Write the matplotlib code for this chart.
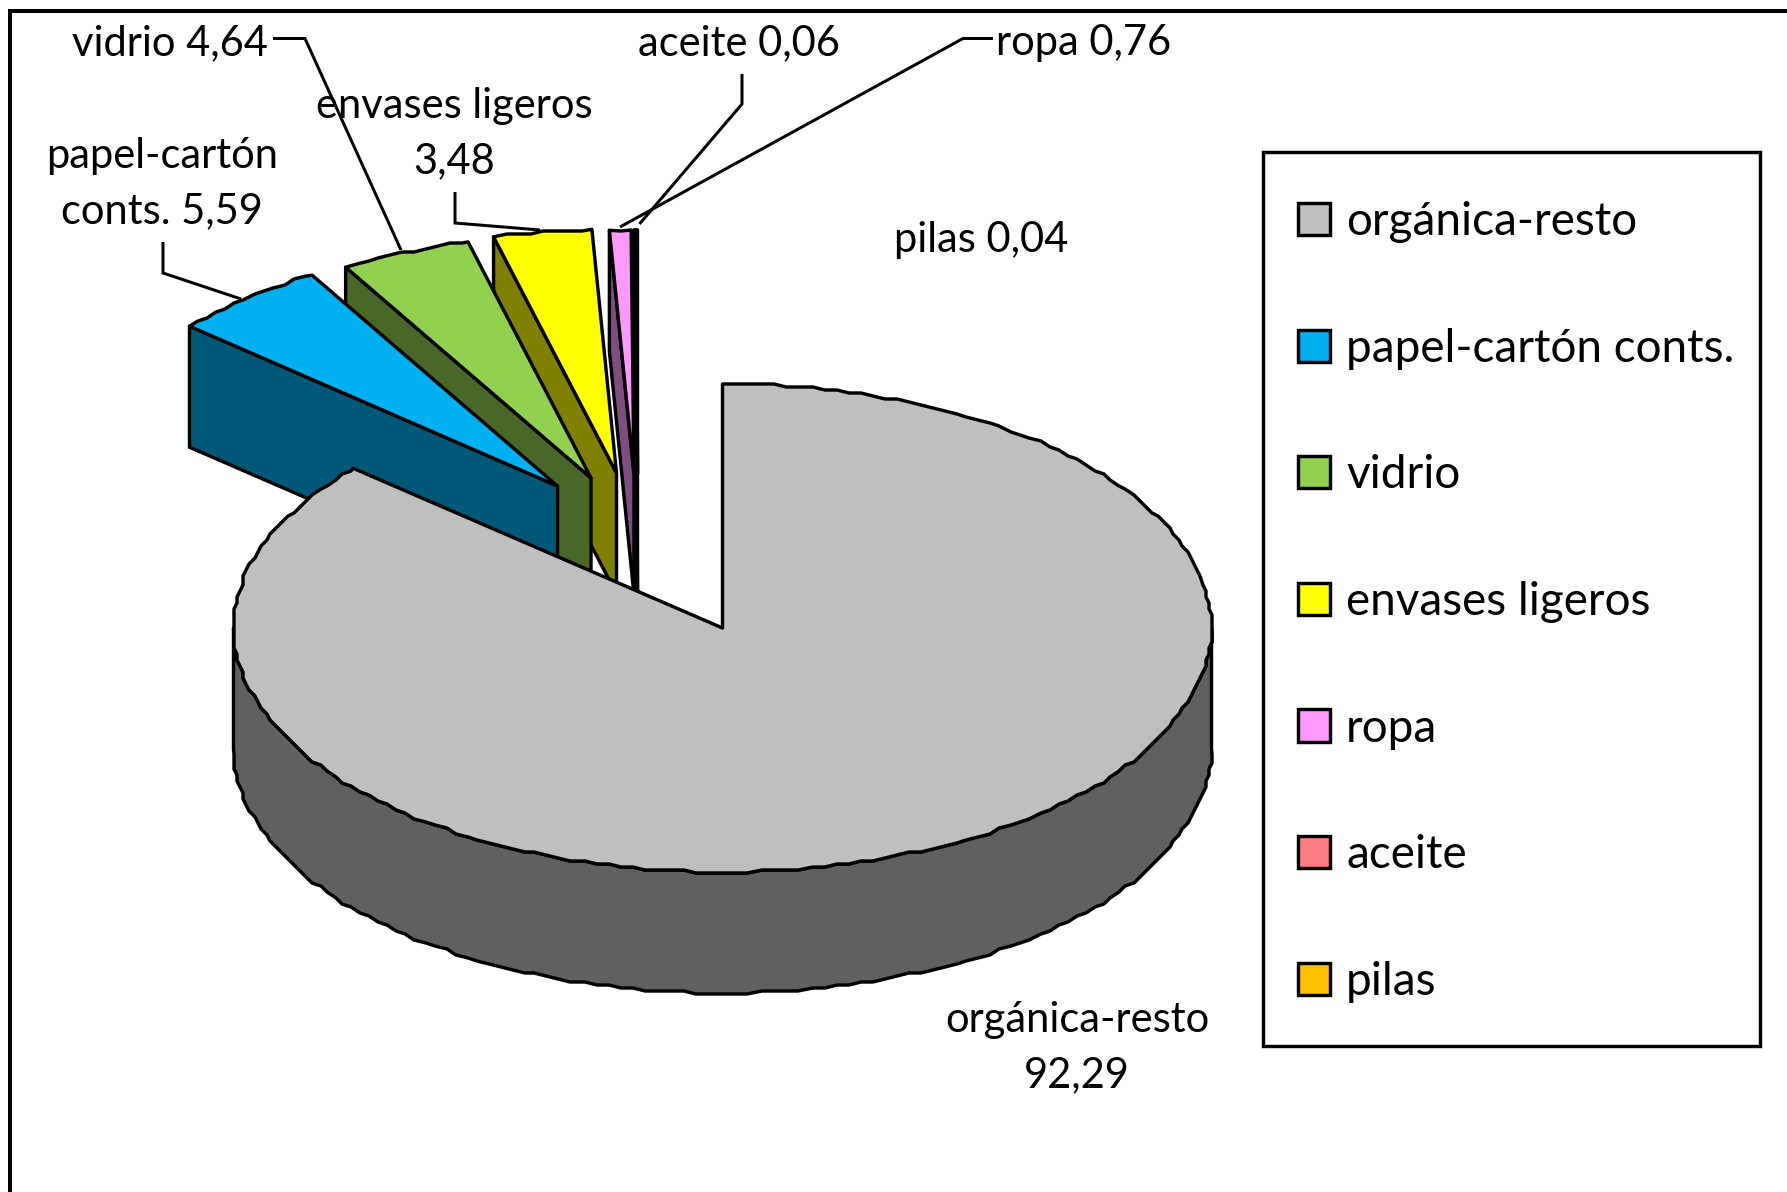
import numpy as np
import matplotlib
matplotlib.use('Agg')
import matplotlib.pyplot as plt
from matplotlib.patches import Polygon, Rectangle, Patch

plt.rcParams['font.family'] = ['Lato', 'DejaVu Sans']

# DATA
categories = ['orgánica-resto', 'papel-cartón conts.', 'vidrio', 'envases ligeros', 'ropa', 'aceite', 'pilas']
values = [92.29, 5.59, 4.64, 3.48, 0.76, 0.06, 0.04]
label_names = ['orgánica-resto\n', 'papel-cartón\nconts. ', 'vidrio ', 'envases ligeros\n', 'ropa ', 'aceite ', 'pilas ']
colors = ['#BFBFBF', '#00B0F0', '#92D050', '#FFFF00', '#FF99FF', '#FF7C80', '#FFC000']

# LAYOUT (pixels of the 1787x1192 picture)
W, H = 1787, 1192
cx, cy = 722.5, 628
rx, ry = 489, 244
rx_slice = 487
depth = 121
explode = [(0, 0), (-165, -142), (-131.5, -150), (-106, -155), (-88.5, -154), (-85.5, -154), (-85, -154)]
label_pos = [(1077, 1048), (162, 183.5), (170, 43), (454, 133.5), (1084, 43), (739, 43), (981, 240)]
leaders = [
    None,
    [(163, 242), (163, 273), (241, 299)],
    [(273, 38.5), (305, 38.5), (401, 250)],
    [(455, 192), (455, 223), (540, 230)],
    [(993, 38.5), (963, 38.5), (620, 227)],
    [(742, 74), (742, 104), (639.5, 224)],
    None,
]
px = 72 / 100  # one picture pixel in points at dpi 100


def arc(a0, a1, ox=0, oy=0, r=rx, step=1.5, grid=3.0):
    # outer rim between two angles (clockwise from 12 o'clock), stepped like the source
    ang = np.arange(a0, a1, step)
    ang = np.append(ang, a1)
    x = cx + ox + r * np.sin(np.radians(ang))
    y = cy + oy - ry * np.cos(np.radians(ang))
    x[1:-1] = np.round(x[1:-1] / grid) * grid
    y[1:-1] = np.round(y[1:-1] / grid) * grid
    return np.column_stack([x, y])


def radial(a, ox=0, oy=0, r=rx):
    return (cx + ox + r * np.sin(np.radians(a)), cy + oy - ry * np.cos(np.radians(a)))


def darker(c):
    r, g, b = matplotlib.colors.to_rgb(c)
    return (r * 0.5, g * 0.5, b * 0.5)


fig = plt.figure(figsize=(W / 100, H / 100), dpi=100)
ax = fig.add_axes([0, 0, 1, 1])
ax.set_xlim(0, W)
ax.set_ylim(H, 0)
ax.axis('off')

# chart frame: only left and top are inside the crop
ax.plot([10, 10, W], [H, 11, 11], color='black', lw=4 * px, solid_joinstyle='miter')

edges = 360 * np.cumsum([0] + values) / sum(values)
style = dict(edgecolor='black', lw=3.4 * px, joinstyle='round')

# exploded slices, right-most first so each one covers the side of the next
for i in range(len(values) - 1, 0, -1):
    ox, oy = explode[i]
    a0, a1 = edges[i], edges[i + 1]
    apex = (cx + ox, cy + oy)
    p0 = radial(a0, ox, oy, rx_slice)
    side = [p0, apex, (apex[0], apex[1] + depth), (p0[0], p0[1] + depth)]
    ax.add_patch(Polygon(side, closed=True, facecolor=darker(colors[i]), **style))
    top = np.vstack([[apex], arc(a0, a1, ox, oy, rx_slice)])
    ax.add_patch(Polygon(top, closed=True, facecolor=colors[i], **style))

# main slice
rim = arc(90, 270)
low = rim + [0, depth]
ax.add_patch(Polygon(np.vstack([rim, low[::-1]]), closed=True, facecolor=darker(colors[0]), **style))
top = np.vstack([[(cx, cy)], arc(edges[0], edges[1])])
ax.add_patch(Polygon(top, closed=True, facecolor=colors[0], **style))

# data labels and leader lines
for name, v, pos in zip(label_names, values, label_pos):
    txt = name + f'{v:.2f}'.replace('.', ',')
    ax.text(pos[0], pos[1], txt, fontsize=30, ha='center', va='center', color='black',
            linespacing=1.56, multialignment='center')
for pts in leaders:
    if pts:
        ax.plot(*zip(*pts), color='black', lw=3 * px, solid_joinstyle='miter', solid_capstyle='butt')

# legend
ax.add_patch(Rectangle((1263, 152), 497, 894, facecolor='white', edgecolor='black', lw=3.4 * px, zorder=4))
handles = [Patch(facecolor=c, edgecolor='black', lw=3.4 * px) for c in colors]
fs = 33
fs_px = fs / px
leg = ax.legend(handles, categories, loc='upper left', frameon=False, fontsize=fs,
                bbox_to_anchor=(1298 / W, 1 - 201 / H), borderaxespad=0, borderpad=0,
                handlelength=32 / fs_px, handleheight=32 / fs_px, handletextpad=16 / fs_px,
                labelspacing=(126.8 - 0.92 * fs_px) / fs_px)
leg.set_zorder(5)

fig.savefig('out.png', dpi=100)
